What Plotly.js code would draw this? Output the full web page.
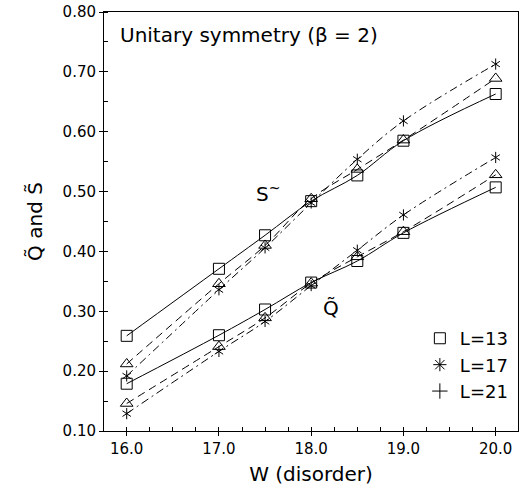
<!DOCTYPE html>
<html>
<head>
<meta charset="utf-8">
<script src="https://cdn.plot.ly/plotly-3.0.1.min.js"></script>
<style>html,body{margin:0;padding:0;background:#fff}#chart{width:529px;height:489px}</style>
</head>
<body>
<div id="chart"></div>
<script>
const W = [16.0, 17.0, 17.5, 18.0, 18.5, 19.0, 20.0];

const S_L13 = [0.259, 0.371, 0.427, 0.484, 0.527, 0.585, 0.663];
const S_L17 = [0.192, 0.336, 0.406, 0.481, 0.554, 0.618, 0.713];
const S_L21 = [0.212, 0.346, 0.410, 0.488, 0.537, 0.586, 0.689];

const Q_L13 = [0.179, 0.260, 0.303, 0.348, 0.384, 0.431, 0.507];
const Q_L17 = [0.129, 0.233, 0.283, 0.343, 0.402, 0.461, 0.557];
const Q_L21 = [0.146, 0.241, 0.289, 0.347, 0.391, 0.433, 0.528];

const legendLabels = ['L=13', 'L=17', 'L=21'];
const legendSymbols = ['square-open', 'asterisk-open', 'cross-thin-open'];

const FONT = 'DejaVu Sans, sans-serif';
const black = '#000';

function series(y, dash, symbol, size) {
  return {
    x: W, y: y, type: 'scatter', mode: 'lines+markers',
    line: {color: black, width: 1, dash: dash, shape: 'spline', smoothing: 1.0},
    marker: {symbol: symbol, size: size, color: black, line: {color: black, width: 1}},
    showlegend: false, hoverinfo: 'skip'
  };
}
function extraMarkers(y, symbol, size) {
  return {
    x: W, y: y, type: 'scatter', mode: 'markers',
    marker: {symbol: symbol, size: size, color: black, line: {color: black, width: 1}},
    showlegend: false, hoverinfo: 'skip'
  };
}

const traces = [
  series(S_L13, 'solid', 'square-open', 11),
  series(S_L21, '8px,5px', 'triangle-up-open', 11),
  series(S_L17, '8px,4px,2px,4px', 'y-up-open', 7),
  extraMarkers(S_L17, 'y-down-open', 7),
  series(Q_L13, 'solid', 'square-open', 11),
  series(Q_L21, '8px,5px', 'triangle-up-open', 11),
  series(Q_L17, '8px,4px,2px,4px', 'y-up-open', 7),
  extraMarkers(Q_L17, 'y-down-open', 7)
];

legendLabels.forEach((lab, i) => {
  traces.push({
    x: [null], y: [null], type: 'scatter', mode: 'markers', name: lab,
    marker: {symbol: legendSymbols[i], size: 11, color: black, line: {color: black, width: 1}},
    showlegend: true, hoverinfo: 'skip'
  });
});

const xr = [15.754, 20.242];
const yr = [0.10, 0.80];

const layout = {
  width: 529, height: 489,
  margin: {l: 104, r: 11, t: 12, b: 58},
  paper_bgcolor: '#fff', plot_bgcolor: '#fff',
  font: {family: FONT, color: black, size: 15},
  showlegend: true,
  legend: {x: 0.99, y: 0.05, xanchor: 'right', yanchor: 'bottom',
    bgcolor: 'rgba(0,0,0,0)', borderwidth: 0, font: {size: 18, family: FONT},
    itemwidth: 30, tracegroupgap: 0},
  xaxis: {
    range: xr, showgrid: false, zeroline: false,
    showline: true, linecolor: black, linewidth: 1, mirror: true,
    tickmode: 'array', tickvals: [16, 17, 18, 19, 20],
    ticktext: ['16.0', '17.0', '18.0', '19.0', '20.0'],
    ticks: 'outside', ticklen: 4, tickcolor: black, tickwidth: 1,
    minor: {dtick: 0.25, tick0: 16, ticks: 'inside', ticklen: 4, tickcolor: black, tickwidth: 1, showgrid: false},
    tickfont: {size: 15, family: FONT},
    title: {text: 'W (disorder)', font: {size: 20, family: FONT}, standoff: 9}
  },
  yaxis: {
    range: yr, showgrid: false, zeroline: false,
    showline: true, linecolor: black, linewidth: 1, mirror: true,
    tickmode: 'array', tickvals: [0.1, 0.2, 0.3, 0.4, 0.5, 0.6, 0.7, 0.8],
    ticktext: ['0.10', '0.20', '0.30', '0.40', '0.50', '0.60', '0.70', '0.80'],
    ticks: 'outside', ticklen: 4, tickcolor: black, tickwidth: 1,
    minor: {dtick: 0.05, tick0: 0.1, ticks: 'inside', ticklen: 4, tickcolor: black, tickwidth: 1, showgrid: false},
    tickfont: {size: 15, family: FONT},
    title: {text: 'Q\u0303 and S\u0303', font: {size: 20, family: FONT}, standoff: 14}
  },
  xaxis2: {
    overlaying: 'x', range: xr, showgrid: false, zeroline: false, showline: false,
    tickmode: 'array', tickvals: [16, 17, 18, 19, 20], showticklabels: false,
    ticks: 'inside', ticklen: 4, tickcolor: black, tickwidth: 1, side: 'bottom'
  },
  yaxis2: {
    overlaying: 'y', range: yr, showgrid: false, zeroline: false, showline: false,
    tickmode: 'array', tickvals: [0.1, 0.2, 0.3, 0.4, 0.5, 0.6, 0.7, 0.8], showticklabels: false,
    ticks: 'inside', ticklen: 4, tickcolor: black, tickwidth: 1, side: 'left'
  },
  annotations: [
    {xref: 'paper', yref: 'paper', x: 0.033, y: 0.945, xanchor: 'left', yanchor: 'middle',
     text: 'Unitary symmetry (\u03B2 = 2)', showarrow: false, font: {size: 20, family: FONT}},
    {xref: 'x', yref: 'y', x: 17.53, y: 0.497, text: 'S<sup>~</sup>', showarrow: false,
     font: {size: 20, family: FONT}},
    {xref: 'x', yref: 'y', x: 18.22, y: 0.305, text: 'Q\u0303', showarrow: false,
     font: {size: 20, family: FONT}}
  ]
};

traces.push({x: [null], y: [null], xaxis: 'x2', yaxis: 'y2', type: 'scatter', mode: 'markers', showlegend: false, hoverinfo: 'skip'});

Plotly.newPlot('chart', traces, layout, {displayModeBar: false, staticPlot: true});
</script>
</body>
</html>
